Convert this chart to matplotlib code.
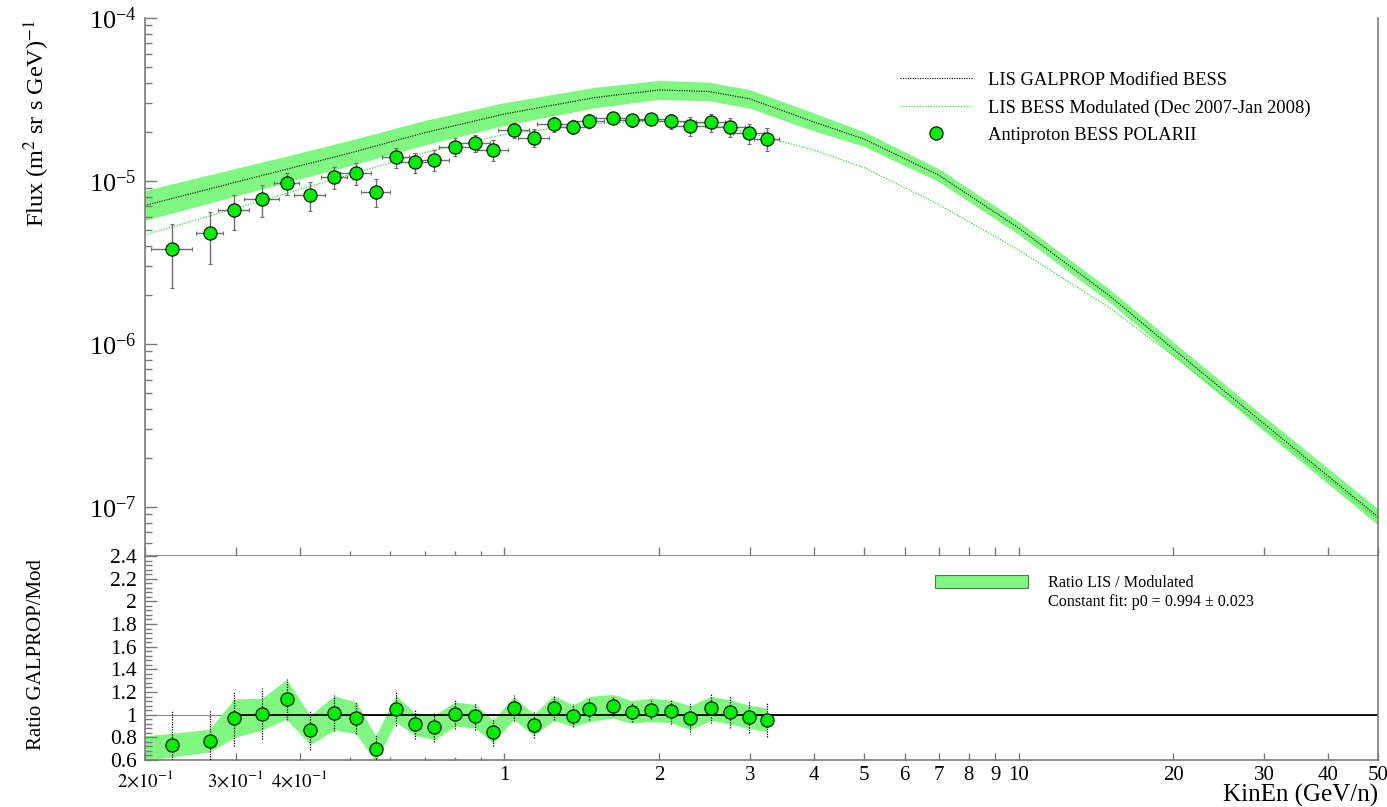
import matplotlib
matplotlib.use('Agg')

from matplotlib import pyplot as plt
from matplotlib.lines import Line2D
from matplotlib.patches import Patch
from matplotlib import ticker
import numpy as np

plt.rcParams['font.family'] = ['Liberation Serif', 'DejaVu Serif']
plt.rcParams['mathtext.fontset'] = 'stix'

# BESS Polar II antiproton bins: kinetic energy (GeV/n) and half bin width
kin_energy = [0.226, 0.267, 0.298, 0.338, 0.377, 0.419, 0.467, 0.515, 0.562, 0.615,
              0.669, 0.731, 0.802, 0.878, 0.951, 1.043, 1.141, 1.246, 1.359, 1.462,
              1.623, 1.767, 1.924, 2.110, 2.298, 2.522, 2.746, 2.993, 3.241]
kin_err = [0.021, 0.016, 0.021, 0.026, 0.021, 0.029, 0.028, 0.036, 0.036, 0.037,
           0.046, 0.051, 0.056, 0.061, 0.066, 0.072, 0.079, 0.087, 0.094, 0.102,
           0.113, 0.123, 0.134, 0.155, 0.160, 0.163, 0.191, 0.208, 0.178]

# Measured flux (m^2 sr s GeV)^-1
flux = [3.83e-6, 4.78e-6, 6.61e-6, 7.76e-6, 9.72e-6, 8.24e-6, 1.059e-5, 1.115e-5, 8.57e-6, 1.397e-5,
        1.308e-5, 1.345e-5, 1.623e-5, 1.711e-5, 1.549e-5, 2.047e-5, 1.844e-5, 2.237e-5, 2.153e-5, 2.344e-5,
        2.445e-5, 2.358e-5, 2.392e-5, 2.334e-5, 2.175e-5, 2.291e-5, 2.153e-5, 1.970e-5, 1.818e-5]

# Data / modulated model, its error and the width of the ratio band
ratio = [0.732, 0.770, 0.967, 1.006, 1.135, 0.865, 1.015, 0.971, 0.696, 1.053,
         0.917, 0.888, 1.006, 0.985, 0.850, 1.059, 0.909, 1.059, 0.991, 1.050,
         1.074, 1.024, 1.042, 1.029, 0.973, 1.056, 1.024, 0.980, 0.956]
ratio_err = [0.312, 0.274, 0.240, 0.225, 0.180, 0.175, 0.155, 0.145, 0.135, 0.150,
             0.130, 0.130, 0.130, 0.120, 0.125, 0.115, 0.115, 0.110, 0.100, 0.097,
             0.090, 0.090, 0.083, 0.110, 0.130, 0.130, 0.140, 0.140, 0.150]
ratio_band = [0.105, 0.100, 0.170, 0.140, 0.175, 0.130, 0.150, 0.140, 0.115, 0.118,
              0.100, 0.110, 0.107, 0.105, 0.100, 0.100, 0.095, 0.110, 0.095, 0.110,
              0.105, 0.100, 0.103, 0.100, 0.106, 0.106, 0.106, 0.103, 0.103]

# Model spectra
model_energy = [0.2, 0.3, 0.4, 0.5, 0.7, 1.0, 1.5, 2.0, 2.5, 3.0, 4.0, 5.0, 7.0, 10, 15, 20, 30, 50]
lis_flux = [7.08e-6, 9.82e-6, 1.238e-5, 1.483e-5, 1.978e-5, 2.576e-5, 3.25e-5, 3.62e-5, 3.54e-5,
            3.19e-5, 2.30e-5, 1.81e-5, 1.084e-5, 5.15e-6, 1.985e-6, 9.31e-7, 3.24e-7, 8.69e-8]
lis_hi = [8.75e-6, 1.194e-5, 1.488e-5, 1.775e-5, 2.352e-5, 3.027e-5, 3.757e-5, 4.138e-5, 4.036e-5,
          3.637e-5, 2.611e-5, 2.007e-5, 1.188e-5, 5.64e-6, 2.176e-6, 1.026e-6, 3.59e-7, 9.75e-8]
lis_lo = [5.73e-6, 8.08e-6, 1.030e-5, 1.239e-5, 1.664e-5, 2.192e-5, 2.811e-5, 3.167e-5, 3.105e-5,
          2.798e-5, 2.026e-5, 1.632e-5, 9.89e-6, 4.70e-6, 1.811e-6, 8.45e-7, 2.92e-7, 7.75e-8]
mod_flux = [4.67e-6, 6.80e-6, 8.88e-6, 1.094e-5, 1.492e-5, 1.931e-5, 2.25e-5, 2.334e-5, 2.24e-5,
            1.97e-5, 1.548e-5, 1.21e-5, 7.16e-6, 3.77e-6, 1.675e-6, 8.44e-7, 3.07e-7, 8.44e-8]

# Constant fit to the ratio
fit_p0 = 0.994
fit_p0_err = 0.023
fit_range = [0.3, 50]

band_color = '#80f780'
point_color = '#00ee00'
mod_color = '#33dd33'
axis_color = '#7a7a7a'

x_major = [0.2, 0.3, 0.4, 1, 2, 3, 4, 5, 6, 7, 8, 9, 10, 20, 30, 40, 50]
x_minor = [0.5, 0.6, 0.7, 0.8, 0.9]


def energy_label(val, pos):
    if val < 1:
        return r'$%d{\times}10^{-1}$' % round(val * 10)
    return '%g' % val


fig = plt.figure(figsize=(13.87, 8.07), dpi=100)
ax_top = fig.add_axes([0.10454, 0.31103, 0.88897, 0.66667])
ax_bot = fig.add_axes([0.10454, 0.05824, 0.88897, 0.25279])

# Upper pad: spectra
ax_top.fill_between(model_energy, lis_lo, lis_hi, color=band_color, lw=0, zorder=1)
ax_top.plot(model_energy, lis_flux, color='k', ls=(0, (1, 1.2)), lw=0.8, zorder=2)
ax_top.plot(model_energy, mod_flux, color=mod_color, ls=(0, (1, 1.2)), lw=0.9, zorder=2)
flux_err = np.array(flux) * np.array(ratio_err) / np.array(ratio)
ax_top.errorbar(kin_energy, flux, xerr=kin_err, yerr=flux_err, fmt='o', ms=9.5,
                mfc=point_color, mec='k', mew=0.8, ecolor='#6e6e6e', elinewidth=1,
                capsize=1.5, zorder=3)

ax_top.set_xscale('log')
ax_top.set_yscale('log')
ax_top.set_xlim(0.2, 50)
ax_top.set_ylim(5e-8, 1e-4)

handles = [Line2D([], [], color='k', ls=(0, (1, 1.2)), lw=0.8),
           Line2D([], [], color=mod_color, ls=(0, (1, 1.2)), lw=0.9),
           Line2D([], [], ls='none', marker='o', ms=9.5, mfc=point_color, mec='k', mew=0.8)]
labels = ['LIS GALPROP Modified BESS', 'LIS BESS Modulated (Dec 2007-Jan 2008)',
          'Antiproton BESS POLARII']
ax_top.legend(handles, labels, loc='upper left', bbox_to_anchor=(0.612, 0.8997),
              frameon=False, fontsize=13.3, handlelength=3.9, handletextpad=0.87,
              labelspacing=0.56, borderpad=0, borderaxespad=0)

# Lower pad: ratio
x = np.array(kin_energy)
r = np.array(ratio)
b = np.array(ratio_band)
lx = np.log10(x)
# carry the first band segment out to the left edge of the axis
frac = (np.log10(0.2) - lx[0]) / (lx[1] - lx[0])
band_x = np.concatenate([[0.2], x])
band_lo = np.concatenate([[(r - b)[0] + frac * ((r - b)[1] - (r - b)[0])], r - b])
band_hi = np.concatenate([[(r + b)[0] + frac * ((r + b)[1] - (r + b)[0])], r + b])
ax_bot.fill_between(band_x, band_lo, band_hi, color=band_color, lw=0, zorder=1)
ax_bot.axhline(1.0, color='#8c8c8c', lw=0.8, zorder=0)
ax_bot.plot(fit_range, [fit_p0, fit_p0], color='k', lw=1.3, zorder=2)
eb = ax_bot.errorbar(kin_energy, ratio, yerr=ratio_err, fmt='o', ms=9.5, mfc=point_color,
                     mec='k', mew=0.8, ecolor='k', elinewidth=0.9, capsize=0, zorder=3)
eb[2][0].set_linestyle((0, (1, 1)))

ax_bot.set_xscale('log')
ax_bot.set_xlim(0.2, 50)
ax_bot.set_ylim(0.6, 2.4)

ax_bot.legend([Patch(facecolor=band_color, edgecolor='#4d7a4d', lw=0.8)], ['Ratio LIS / Modulated'],
              loc='upper left', bbox_to_anchor=(0.6407, 0.907), frameon=False, fontsize=11.6,
              handlelength=5.8, handleheight=0.87, handletextpad=1.2, borderpad=0, borderaxespad=0)
ax_bot.text(0.7324, 0.774, 'Constant fit: p0 = %.3f \u00b1 %.3f' % (fit_p0, fit_p0_err),
            transform=ax_bot.transAxes, fontsize=11.6, ha='left', va='center')

# Axes styling
for ax in (ax_top, ax_bot):
    ax.xaxis.set_major_locator(ticker.FixedLocator(x_major))
    ax.xaxis.set_minor_locator(ticker.FixedLocator(x_minor))
    ax.spines['top'].set_visible(False)
    for side in ('left', 'bottom', 'right'):
        ax.spines[side].set_color(axis_color)
        ax.spines[side].set_linewidth(1.2)
    ax.tick_params(which='both', direction='in', color=axis_color, top=False, right=False)

ax_top.xaxis.set_major_formatter(ticker.NullFormatter())
ax_top.xaxis.set_minor_formatter(ticker.NullFormatter())
ax_top.tick_params(axis='x', which='major', length=6.5, width=1)
ax_top.tick_params(axis='x', which='minor', length=3.5, width=1)
ax_top.yaxis.set_major_locator(ticker.LogLocator(base=10, numticks=10))
ax_top.yaxis.set_minor_locator(ticker.LogLocator(base=10, subs=np.arange(2, 10), numticks=10))
ax_top.yaxis.set_minor_formatter(ticker.NullFormatter())
ax_top.tick_params(axis='y', which='major', length=8.6, width=1, labelsize=19, pad=6)
ax_top.tick_params(axis='y', which='minor', length=4.7, width=1)

ax_bot.xaxis.set_major_formatter(ticker.FuncFormatter(energy_label))
ax_bot.xaxis.set_minor_formatter(ticker.NullFormatter())
ax_bot.tick_params(axis='x', which='major', length=5, width=1, labelsize=15, pad=4)
ax_bot.tick_params(axis='x', which='minor', length=2.5, width=1)
# the n x 10^-1 labels are smaller and sit a little lower
for tick, val in zip(ax_bot.xaxis.get_major_ticks(), x_major):
    if val < 1:
        tick.label1.set_fontsize(13.5)
        tick.set_pad(7)
ax_bot.yaxis.set_major_locator(ticker.MultipleLocator(0.2))
ax_bot.yaxis.set_minor_locator(ticker.MultipleLocator(0.04))
ax_bot.yaxis.set_major_formatter(ticker.FuncFormatter(lambda v, p: '%g' % round(v, 2)))
ax_bot.tick_params(axis='y', which='major', length=8.6, width=1, labelsize=15.5, pad=6)
ax_bot.tick_params(axis='y', which='minor', length=4.7, width=1)

fig.text(37 / 1387, 1 - 20 / 807, r'Flux (m$^{2}$ sr s GeV)$^{-1}$', rotation=90,
         ha='center', va='top', fontsize=17.5)
fig.text(37 / 1387, 1 - 654 / 807, 'Ratio GALPROP/Mod', rotation=90,
         ha='center', va='center', fontsize=15)
fig.text(1378 / 1387, 1 - 802 / 807, 'KinEn (GeV/n)', ha='right', va='baseline', fontsize=18)

plt.savefig('out.png', dpi=100)
plt.close()
